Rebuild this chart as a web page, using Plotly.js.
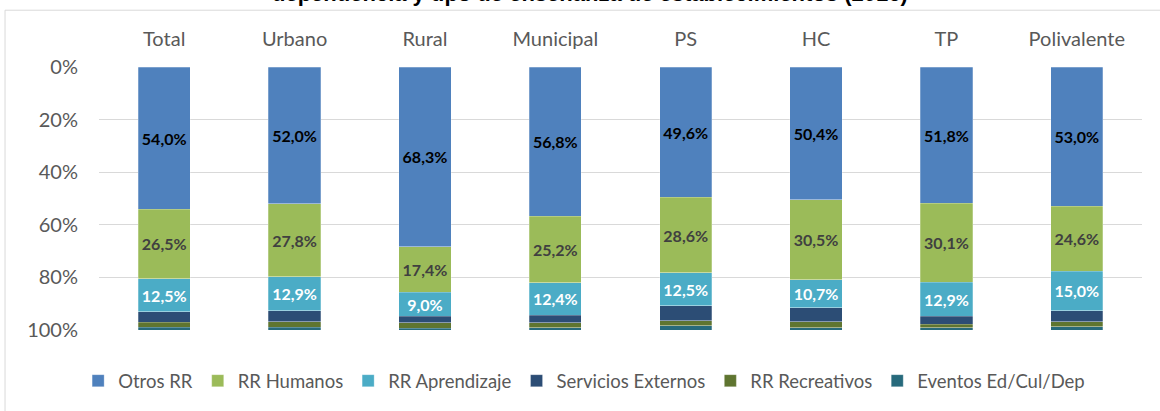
<!DOCTYPE html>
<html>
<head>
<meta charset="utf-8">
<script src="https://cdn.plot.ly/plotly-3.0.1.min.js"></script>
<style>html,body{margin:0;padding:0;background:#fff;}#chart{width:1160px;height:411px;}</style>
</head>
<body>
<div id="chart"></div>
<script>
const categories = ["Total", "Urbano", "Rural", "Municipal", "PS", "HC", "TP", "Polivalente"];
const seriesNames = ["Otros RR", "RR Humanos", "RR Aprendizaje", "Servicios Externos", "RR Recreativos", "Eventos Ed/Cul/Dep"];
const otrosRR       = [54.0, 52.0, 68.3, 56.8, 49.6, 50.4, 51.8, 53.0];
const rrHumanos     = [26.5, 27.8, 17.4, 25.2, 28.6, 30.5, 30.1, 24.6];
const rrAprendizaje = [12.5, 12.9, 9.0, 12.4, 12.5, 10.7, 12.9, 15.0];
const servExternos  = [4.0, 4.2, 2.5, 2.8, 5.7, 5.2, 3.1, 4.2];
const rrRecreativos = [2.0, 2.0, 2.1, 2.0, 1.9, 2.3, 1.3, 1.9];
const eventos       = [1.0, 1.1, 0.7, 0.8, 1.7, 0.9, 0.8, 1.3];
const titleText = "dependencia y tipo de enseñanza de establecimientos (2016)";

const colors = ["#4F81BD", "#9BBB59", "#4BACC6", "#2C4D75", "#5F7530", "#276A7C"];
const labelColors = ["#000000", "#404040", "#FFFFFF", null, null, null];
const allSeries = [otrosRR, rrHumanos, rrAprendizaje, servExternos, rrRecreativos, eventos];

const fmt = v => v.toFixed(1).replace(".", ",") + "%";

const traces = allSeries.map((vals, i) => {
  const t = {
    type: "bar",
    name: seriesNames[i],
    x: categories,
    y: vals,
    marker: {color: colors[i], line: {color: "rgba(255,255,255,0.5)", width: 0.5}},
    hoverinfo: "name+y"
  };
  if (labelColors[i]) {
    t.text = vals.map(fmt);
    t.texttemplate = "%{text}";
    t.textposition = "inside";
    t.insidetextanchor = "middle";
    t.constraintext = "none";
    t.textangle = 0;
    t.textfont = {family: "Lato, 'Open Sans', sans-serif", size: 16, color: labelColors[i], weight: "bold"};
  } else {
    t.textposition = "none";
  }
  return t;
});

const layout = {
  width: 1160,
  height: 411,
  barmode: "stack",
  bargap: 0.6,
  margin: {l: 99, r: 18, t: 67, b: 80},
  paper_bgcolor: "#ffffff",
  plot_bgcolor: "#ffffff",
  font: {family: "Lato, 'Open Sans', sans-serif", color: "#595959"},
  showlegend: true,
  legend: {
    orientation: "h",
    x: -0.020, xanchor: "left",
    y: -0.190, yanchor: "middle",
    font: {size: 18.5, color: "#595959"},
    traceorder: "normal",
    itemwidth: 30,
    bgcolor: "rgba(0,0,0,0)"
  },
  xaxis: {
    side: "top",
    type: "category",
    showgrid: false,
    showline: false,
    zeroline: false,
    ticks: "",
    ticklabelstandoff: 16,
    tickfont: {size: 20, color: "#595959"}
  },
  yaxis: {
    range: [100, 0],
    dtick: 20,
    tick0: 0,
    ticksuffix: "%",
    showgrid: true,
    gridcolor: "#d9d9d9",
    gridwidth: 1,
    zeroline: false,
    showline: false,
    ticks: "",
    ticklabelstandoff: 20,
    tickfont: {size: 20, color: "#595959"}
  },
  annotations: [{
    text: titleText,
    xref: "paper", yref: "paper",
    x: 0.471, y: 1.279,
    xanchor: "center", yanchor: "middle",
    showarrow: false,
    font: {family: "'Liberation Sans', Arial, sans-serif", size: 22, color: "#000000", weight: "bold"}
  }],
  shapes: [{
    type: "rect", xref: "paper", yref: "paper",
    x0: -0.0901, x1: 1.2, y0: 1.2159, y1: -0.6,
    line: {color: "#d9d9d9", width: 1},
    fillcolor: "rgba(0,0,0,0)",
    layer: "below"
  }]
};

Plotly.newPlot("chart", traces, layout, {displayModeBar: false, staticPlot: true});
</script>
</body>
</html>
